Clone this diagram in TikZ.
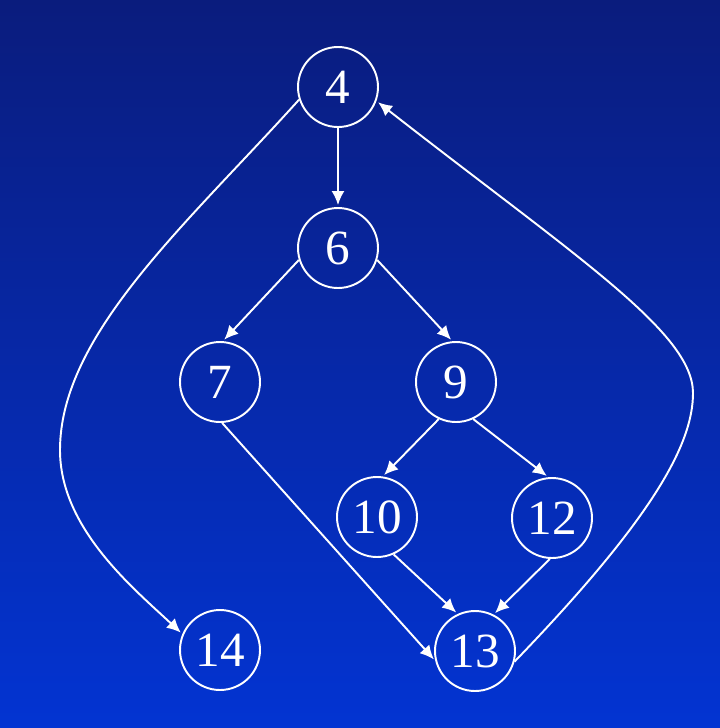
\documentclass[tikz,border=0pt]{standalone}
\usepackage{fontspec}
\setmainfont{Liberation Serif}
\usetikzlibrary{arrows.meta}
\definecolor{hgoben}{RGB}{10,28,125}
\definecolor{hgunten}{RGB}{3,52,210}
\tikzset{
  knoten/.style={circle, draw=white, line width=1.1pt, minimum size=1.6cm,
    inner sep=0pt, text=white, font=\fontsize{28}{30}\selectfont},
  kante/.style={draw=white, line width=1.1pt,
    -{Latex[length=0.28cm,width=0.26cm]}, shorten >=0.04cm}
}
\begin{document}
\begin{tikzpicture}[x=0.02cm, y=0.02cm]
% Hintergrund mit Verlauf:
\fill[top color=hgoben, bottom color=hgunten] (0,0) rectangle (720,-728);
% Knoten des Graphen:
\node[knoten] (n4) at (338,-87) {4};
\node[knoten] (n6) at (338,-248) {6};
\node[knoten] (n7) at (220,-382) {7};
\node[knoten] (n9) at (456,-382) {9};
\node[knoten] (n10) at (377,-517) {10};
\node[knoten] (n12) at (552,-518) {12};
\node[knoten] (n13) at (475,-651) {13};
\node[knoten] (n14) at (220,-650) {14};
% Hilfspunkte fuer die Boegen:
\coordinate (bendL) at (60,-450);
\coordinate (bendR) at (693,-393);
% Gerade Kanten:
\draw[kante] (n4.south) -- (n6.north);
\draw[kante] (n6.197) -- (n7.86);
\draw[kante] (n6.-17) -- (n9.95);
\draw[kante] (n9.245) -- (n10.82);
\draw[kante] (n9.295) -- (n12.95);
\draw[kante] (n10.-66) -- (n13.115);
\draw[kante] (n12.267) -- (n13.63);
\draw[kante] (n7.-87) -- (n13.194);
% Bogen links nach unten zu 14:
\draw[kante] (n4.198) to[out=228, in=90, out looseness=1.0, in looseness=0.7] (bendL)
  to[out=-90, in=137, out looseness=0.9, in looseness=0.8] (n14.157);
% Bogen rechts zurueck zu 4:
\draw[kante] (n13.-15) to[out=46, in=-90, out looseness=1.6, in looseness=0.4] (bendR)
  to[out=90, in=-38, out looseness=0.36, in looseness=1.5] (n4.-20);
\end{tikzpicture}
\end{document}
